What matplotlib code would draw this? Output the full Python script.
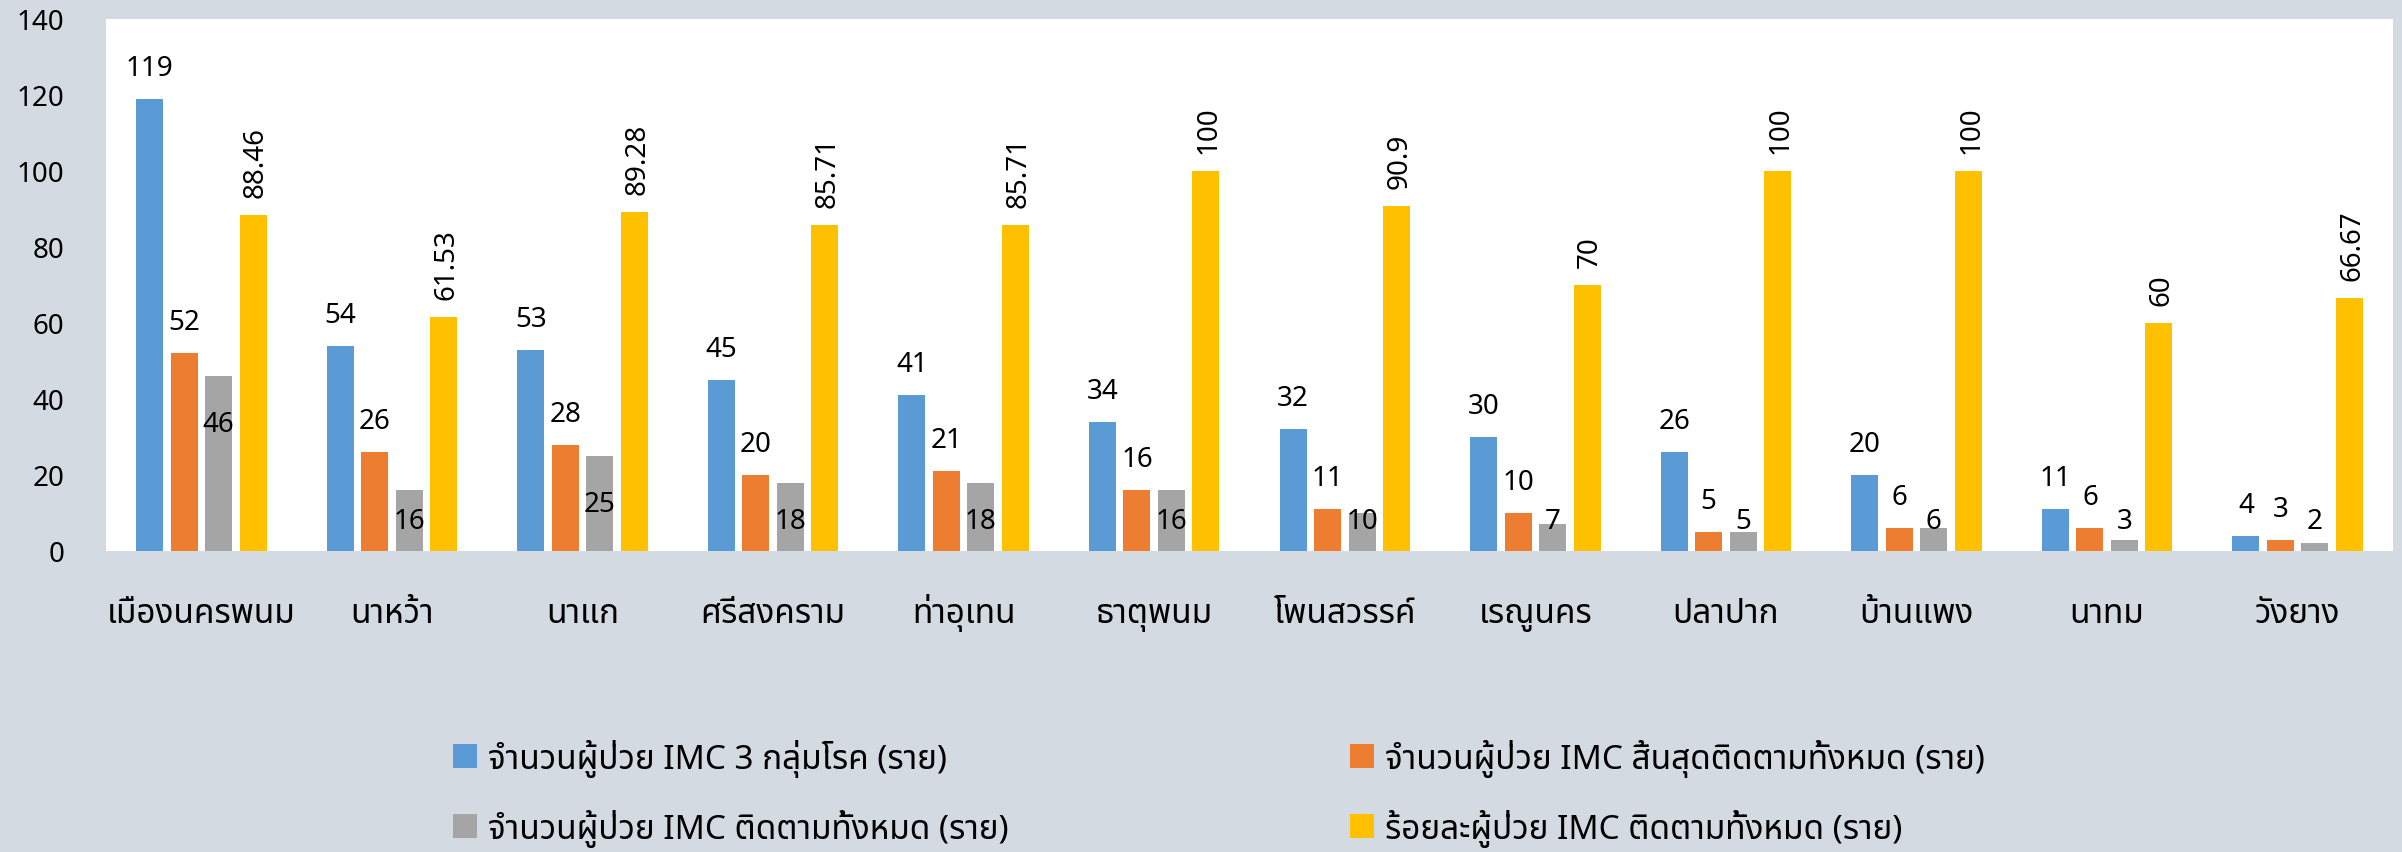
import matplotlib
matplotlib.use("Agg")
import matplotlib.pyplot as plt
from matplotlib import font_manager as fm
from matplotlib.patches import Patch
import numpy as np

# ---------------- data ----------------
districts = ["เมืองนครพนม", "นาหว้า", "นาแก", "ศรีสงคราม", "ท่าอุเทน", "ธาตุพนม",
             "โพนสวรรค์", "เรณูนคร", "ปลาปาก", "บ้านแพง", "นาทม", "วังยาง"]
imc_total = [119, 54, 53, 45, 41, 34, 32, 30, 26, 20, 11, 4]
imc_finished = [52, 26, 28, 20, 21, 16, 11, 10, 5, 6, 6, 3]
imc_followed = [46, 16, 25, 18, 18, 16, 10, 7, 5, 6, 3, 2]
pct_followed = [88.46, 61.53, 89.28, 85.71, 85.71, 100, 90.9, 70, 100, 100, 60, 66.67]
series_labels = ["จำนวนผู้ป่วย IMC 3 กลุ่มโรค (ราย)",
                 "จำนวนผู้ป่วย IMC สิ้นสุดติดตามทั้งหมด (ราย)",
                 "จำนวนผู้ป่วย IMC ติดตามทั้งหมด (ราย)",
                 "ร้อยละผู้ป่วย IMC ติดตามทั้งหมด (ราย)"]
y_ticks = [0, 20, 40, 60, 80, 100, 120, 140]

# ---------------- fonts ----------------
thai_fams = []
try:
    from fontTools.ttLib import TTFont
    for f in fm.fontManager.ttflist:
        try:
            tt = TTFont(f.fname, fontNumber=0, lazy=True)
            cmap = tt.getBestCmap()
            if cmap and 0x0E08 in cmap and 0x0E33 in cmap and 0x0E19 in cmap:
                if f.name not in thai_fams:
                    thai_fams.append(f.name)
        except Exception:
            pass
except Exception:
    pass
pref = ["Tahoma", "Leelawadee UI", "Leelawadee", "Noto Sans Thai", "Noto Sans Thai UI",
        "Noto Sans Thai Looped", "Sarabun", "Loma", "Garuda", "Kinnari", "Norasi"]
ordered = [p for p in pref if p in thai_fams] + [p for p in thai_fams if p not in pref]
families = (ordered[:1] if ordered else []) + ["DejaVu Sans"]
plt.rcParams["font.family"] = families

# ---------------- style ----------------
W, H = 2402, 853
bg = "#D3DAE1"
colors = ["#5B9BD5", "#ED7D31", "#A5A5A5", "#FFC000"]
fs_num = 20     # numbers
fs_txt = 24     # Thai text

fig = plt.figure(figsize=(W / 100, H / 100), dpi=100, facecolor=bg)
ax = fig.add_axes([106 / W, (H - 552) / H, (2393 - 106) / W, (552 - 20) / H])
ax.set_facecolor("white")

n = len(districts)
x = np.arange(n)
step = 0.181
bw = 0.1417
series = [imc_total, imc_finished, imc_followed, pct_followed]
offsets = [(-1.5 + i) * step for i in range(4)]
for vals, off, c in zip(series, offsets, colors):
    ax.bar(x + off, vals, width=bw, color=c, linewidth=0)

ax.set_xlim(-0.5, n - 0.5)
ax.set_ylim(0, 140)
ax.set_yticks(y_ticks)
ax.set_xticks(x)
ax.set_xticklabels(districts, fontsize=fs_txt)
ax.tick_params(axis="both", length=0)
ax.tick_params(axis="y", pad=30, labelsize=fs_num)
ax.tick_params(axis="x", pad=51)
for lbl in ax.get_xticklabels():
    lbl.set_verticalalignment("baseline")
for s in ax.spines.values():
    s.set_visible(False)

px = 532 / 140.0  # pixels per unit

# blue & orange labels: above bar
for vals, off in zip(series[:2], offsets[:2]):
    for xi, v in zip(x, vals):
        ax.annotate(f"{v:g}", (xi + off, v), xytext=(0, 24), textcoords="offset pixels",
                    ha="center", va="baseline", fontsize=fs_num)
# gray labels: inside end, but kept above a floor
for xi, v in zip(x, imc_followed):
    base_px = max(v * px - 55, 23)
    ax.annotate(f"{v:g}", (xi + offsets[2], 0), xytext=(0, base_px), textcoords="offset pixels",
                ha="center", va="baseline", fontsize=fs_num)
# yellow labels: rotated above bar
for xi, v in zip(x, pct_followed):
    ax.annotate(f"{v:g}", (xi + offsets[3], v), xytext=(3, 18), textcoords="offset pixels",
                ha="center", va="bottom", rotation=90, fontsize=fs_num)

fpx = fs_txt * 100 / 72.0
hl = 24 / fpx
handles = [Patch(facecolor=c, edgecolor="none") for c in colors]
common = dict(loc="upper left", bbox_transform=fig.transFigure, frameon=False, borderpad=0,
              borderaxespad=0, handlelength=hl, handleheight=hl, handletextpad=0.33,
              labelspacing=0.96, fontsize=fs_txt)
fig.legend([handles[0], handles[2]], [series_labels[0], series_labels[2]],
           bbox_to_anchor=(453 / W, 1 - 740 / H), **common)
fig.legend([handles[1], handles[3]], [series_labels[1], series_labels[3]],
           bbox_to_anchor=(1350 / W, 1 - 740 / H), **common)

fig.savefig("out.png", dpi=100, facecolor=bg)
